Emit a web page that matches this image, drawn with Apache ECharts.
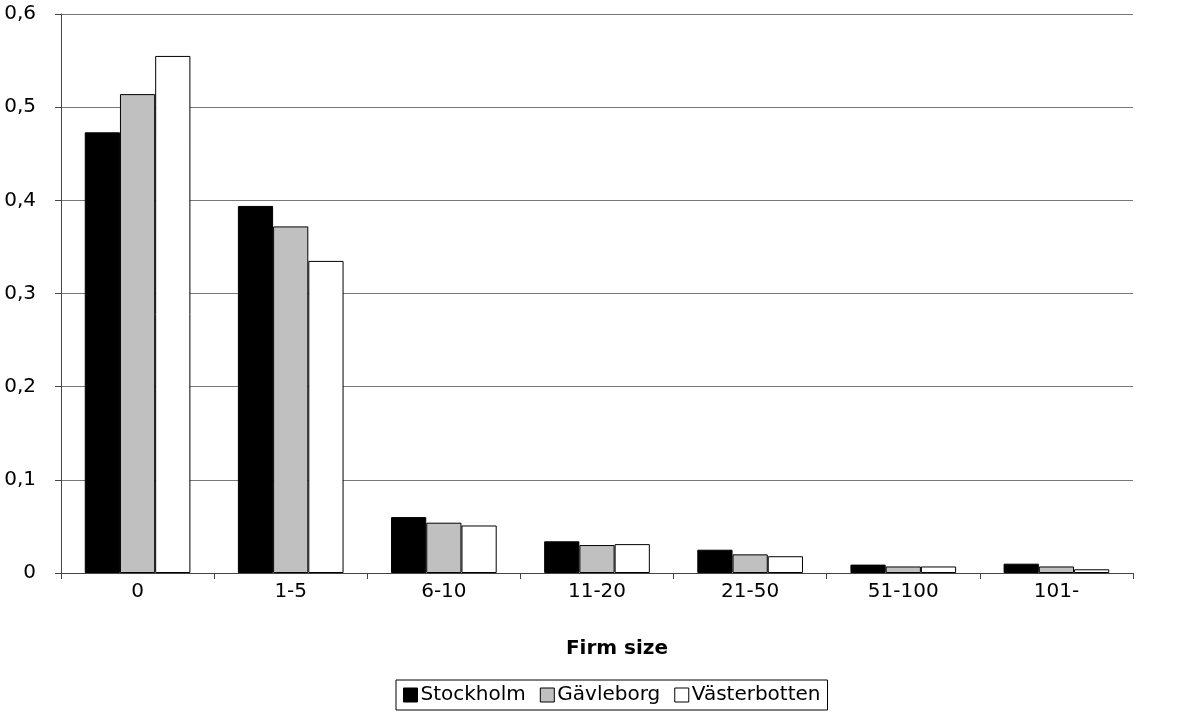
<!DOCTYPE html>
<html>
<head>
<meta charset="utf-8">
<script src="https://cdn.jsdelivr.net/npm/echarts@6/dist/echarts.min.js"></script>
<style>
  html, body { margin: 0; padding: 0; background: #fff; }
  #echart { width: 1179px; height: 713px; }
</style>
</head>
<body>
<div id="echart"></div>
<script>
// firm size classes and share per county
var categories = ['0', '1-5', '6-10', '11-20', '21-50', '51-100', '101-'];
var stockholm    = [0.473, 0.394, 0.060, 0.034, 0.025, 0.009, 0.010];
var gavleborg    = [0.514, 0.372, 0.054, 0.030, 0.020, 0.007, 0.007];
var vasterbotten = [0.555, 0.335, 0.051, 0.031, 0.018, 0.007, 0.004];
var yTicks = [0, 0.1, 0.2, 0.3, 0.4, 0.5, 0.6];

var myChart = echarts.init(document.getElementById('echart'));
var font = 'DejaVu Sans';

function barSeries(name, data, color) {
    return {
        name: name,
        type: 'bar',
        data: data,
        barGap: '0%',
        barCategoryGap: '31%',
        itemStyle: {
            color: color,
            borderColor: '#000',
            borderWidth: 1
        }
    };
}

var option = {
    backgroundColor: '#fff',
    animation: false,
    textStyle: { fontFamily: font },
    grid: {
        left: 61,
        right: 46,
        top: 14,
        bottom: 140
    },
    legend: {
        bottom: 3,
        left: 396,
        itemWidth: 14,
        itemHeight: 14,
        itemGap: 14,
        padding: [5, 7],
        borderColor: '#000',
        borderWidth: 1,
        icon: 'rect',
        itemStyle: { borderColor: '#000', borderWidth: 1 },
        textStyle: { fontSize: 20, color: '#000', fontFamily: font, padding: [0, 0, 0, -2] },
        data: ['Stockholm', 'Gävleborg', 'Västerbotten']
    },
    xAxis: {
        type: 'category',
        data: categories,
        name: 'Firm size',
        nameLocation: 'middle',
        nameGap: 66,
        nameTextStyle: { fontSize: 20, fontWeight: 'bold', color: '#000', fontFamily: font, padding: [0, 0, 0, 40] },
        axisLine: { lineStyle: { color: '#444', width: 1 } },
        axisTick: { show: true, length: 6, interval: 0, lineStyle: { color: '#444' } },
        axisLabel: { fontSize: 20, color: '#000', margin: 9, fontFamily: font },
        splitLine: { show: false }
    },
    yAxis: {
        type: 'value',
        min: 0,
        max: 0.6,
        interval: 0.1,
        axisLine: { show: true, lineStyle: { color: '#444', width: 1 } },
        axisTick: { show: true, length: 6, lineStyle: { color: '#444' } },
        axisLabel: {
            fontSize: 20,
            color: '#000',
            margin: 25,
            fontFamily: font,
            formatter: function (v) {
                var r = Math.round(v * 10) / 10;
                for (var i = 0; i < yTicks.length; i++) {
                    if (Math.abs(yTicks[i] - r) < 1e-9) r = yTicks[i];
                }
                return String(r).replace('.', ',');
            }
        },
        splitLine: { show: true, lineStyle: { color: '#777', width: 1 } }
    },
    series: [
        barSeries('Stockholm', stockholm, '#000000'),
        barSeries('Gävleborg', gavleborg, '#c0c0c0'),
        barSeries('Västerbotten', vasterbotten, '#ffffff')
    ]
};
myChart.setOption(option);
</script>
</body>
</html>
